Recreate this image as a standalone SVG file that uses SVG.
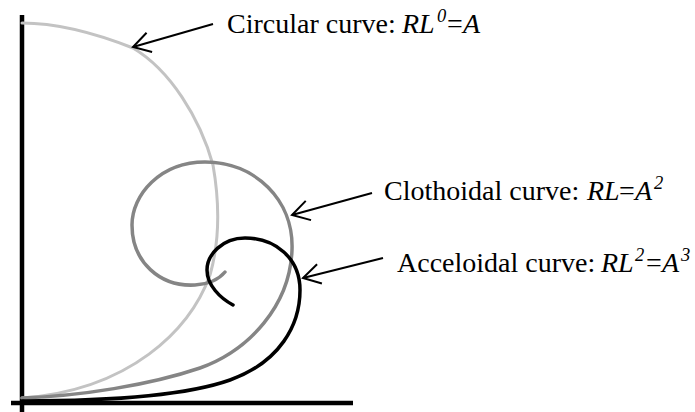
<svg xmlns="http://www.w3.org/2000/svg" width="695" height="412" viewBox="0 0 695 412">
<style>
.axis{stroke:#000;stroke-width:4.5;fill:none}
.curve{fill:none;stroke-linecap:round;stroke-linejoin:round}
.circ{stroke:#c3c3c3;stroke-width:3}
.cloth{stroke:#858585;stroke-width:3.5}
.accel{stroke:#000;stroke-width:3.5}
.arrow{stroke:#000;stroke-width:2;fill:none;marker-start:url(#open)}
.lbl{font-family:"Liberation Serif","Times New Roman",serif;font-size:28px;fill:#000}
.it{font-style:italic}
.sup{font-style:italic;font-size:18.5px}
</style>
<defs>
<marker id="open" viewBox="-20 -12 22 24" refX="0" refY="0" markerWidth="22" markerHeight="24" markerUnits="userSpaceOnUse" orient="auto-start-reverse" overflow="visible">
<path d="M-17,-10 L0,0 L-17,10" fill="none" stroke="#000" stroke-width="2"/>
</marker>
</defs>
<g id="axes">
<line class="axis" x1="22" y1="15" x2="22" y2="412"/>
<line class="axis" x1="11" y1="403" x2="353" y2="403"/>
</g>
<g id="circular-curve">
<path class="curve circ" d="M22,23 C60,23 100,35 133,48 C170,70 200,118 213,165 C220,205 220,240 210,275 C190,330 130,390 22,398"/>
</g>
<g id="clothoidal-curve">
<path class="curve cloth" d="M22,398 C80,396 150,385 200,368 C250,350 290,305 292,250 C294,200 255,162 205,162 C160,162 132,195 132,225 C132,262 160,287 195,285 C210,284 220,278 225,272"/>
</g>
<g id="acceloidal-curve">
<path class="curve accel" d="M22,401 C110,401 185,396 230,380 C280,362 300,325 300,290 C300,258 275,238 245,238 C222,238 207,255 207,270 C207,285 220,298 233,305"/>
</g>
<g id="connectors">
<line class="arrow" x1="133" y1="47" x2="213" y2="24"/>
<line class="arrow" x1="292" y1="215" x2="372" y2="193"/>
<line class="arrow" x1="303" y1="278" x2="383" y2="258"/>
</g>
<g id="label-circular">
<text class="lbl" x="227" y="33">Circular curve: <tspan class="it" x="402">RL</tspan><tspan class="sup" x="437" dy="-11">0</tspan><tspan x="447" dy="11">=</tspan><tspan class="it" x="463">A</tspan></text>
</g>
<g id="label-clothoidal">
<text class="lbl" x="384" y="200">Clothoidal curve: <tspan class="it" x="587">RL</tspan><tspan x="619">=</tspan><tspan class="it" x="635">A</tspan><tspan class="sup" x="654" dy="-11">2</tspan></text>
</g>
<g id="label-acceloidal">
<text class="lbl" x="397" y="272">Acceloidal curve: <tspan class="it" x="601">RL</tspan><tspan class="sup" x="635" dy="-11">2</tspan><tspan x="646" dy="11">=</tspan><tspan class="it" x="662">A</tspan><tspan class="sup" x="681" dy="-11">3</tspan></text>
</g>
</svg>
